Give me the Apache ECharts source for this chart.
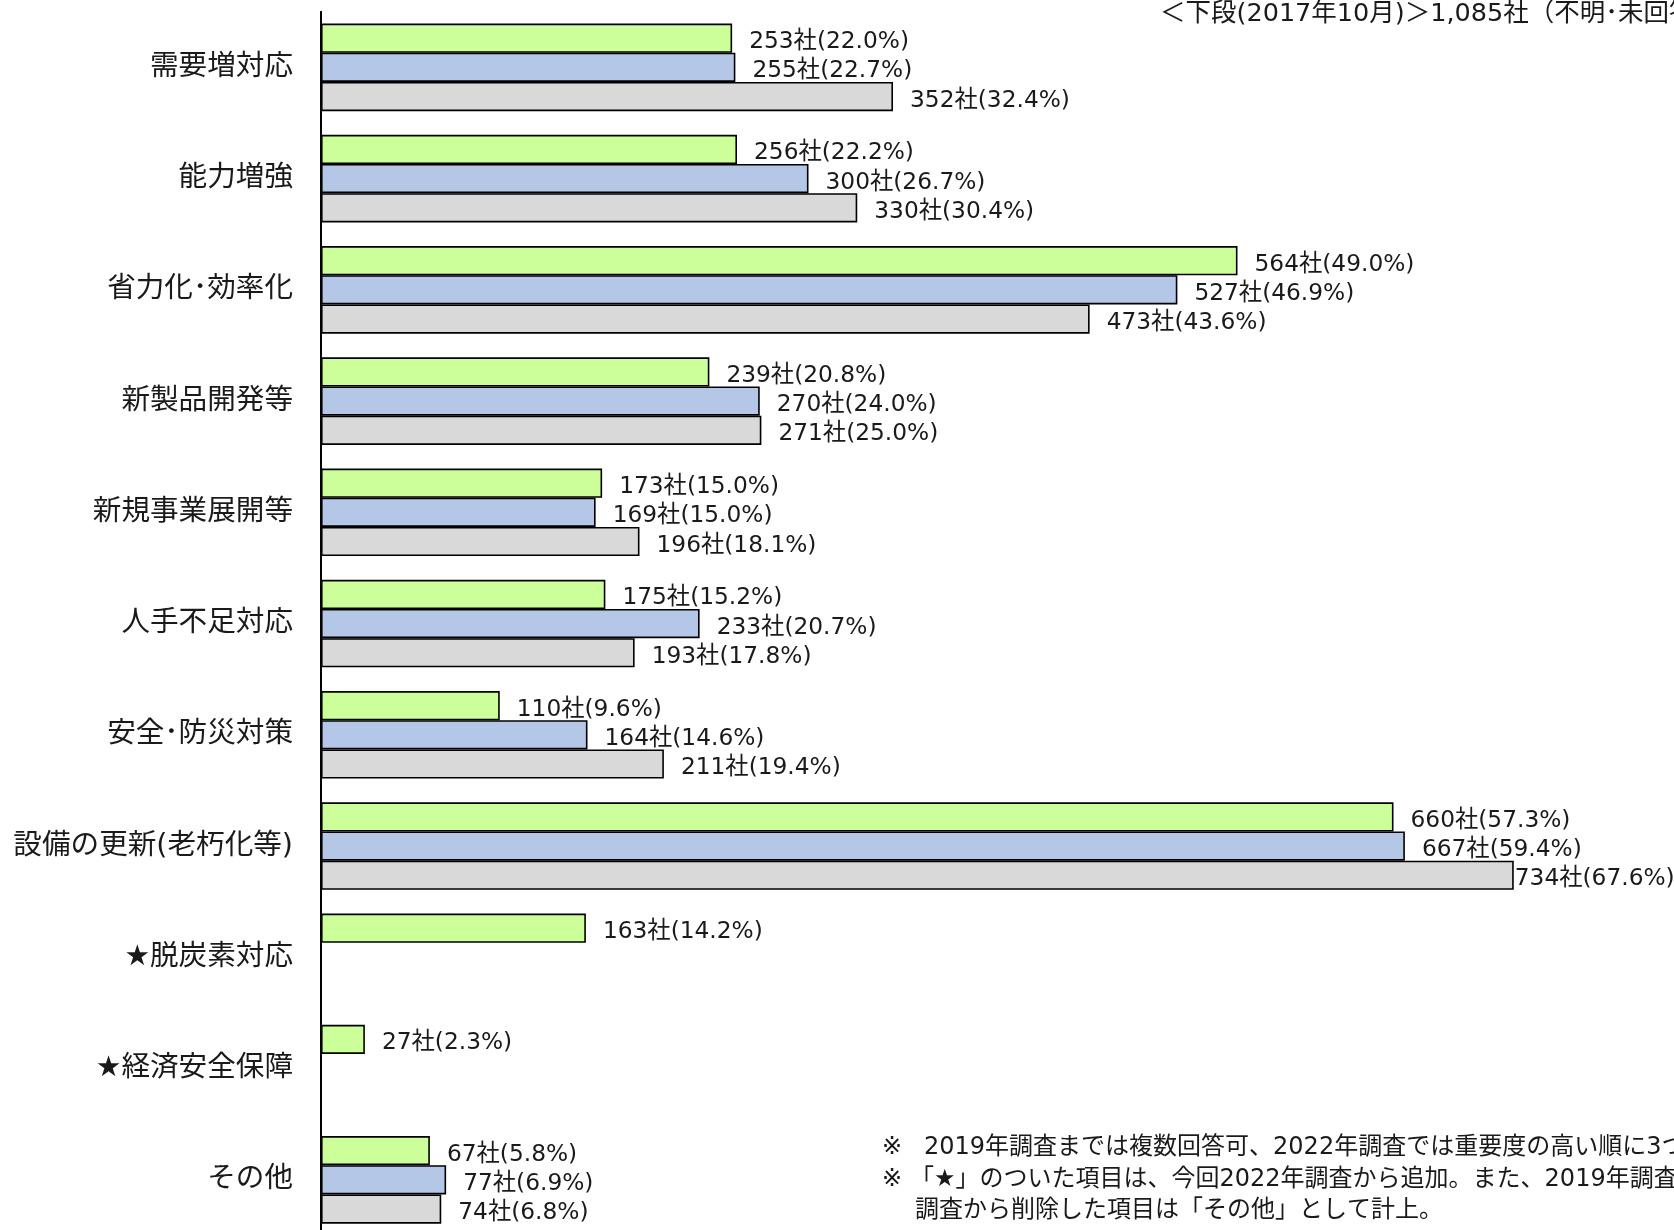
<!DOCTYPE html>
<html>
<head>
<meta charset="utf-8">
<title>設備投資の目的</title>
<script src="https://cdn.jsdelivr.net/npm/echarts@6/dist/echarts.min.js"></script>
<style>
  html, body { margin: 0; padding: 0; background: #ffffff; overflow: hidden; }
  /* the plot runs slightly past the bottom edge of the page */
  #chart { width: 1674px; height: 1250px; }
</style>
</head>
<body>
<div id="chart"></div>
<script>
// 投資目的の項目（上から順に）
const categories = [
  '需要増対応', '能力増強', '省力化･効率化', '新製品開発等', '新規事業展開等',
  '人手不足対応', '安全･防災対策', '設備の更新(老朽化等)', '★脱炭素対応',
  '★経済安全保障', 'その他'
];

// 上段：2022年調査（社数・割合）
const counts2022 = [253, 256, 564, 239, 173, 175, 110, 660, 163, 27, 67];
const shares2022 = [22.0, 22.2, 49.0, 20.8, 15.0, 15.2, 9.6, 57.3, 14.2, 2.3, 5.8];

// 中段：2019年調査
const counts2019 = [255, 300, 527, 270, 169, 233, 164, 667, null, null, 77];
const shares2019 = [22.7, 26.7, 46.9, 24.0, 15.0, 20.7, 14.6, 59.4, null, null, 6.9];

// 下段：2017年調査
const counts2017 = [352, 330, 473, 271, 196, 193, 211, 734, null, null, 74];
const shares2017 = [32.4, 30.4, 43.6, 25.0, 18.1, 17.8, 19.4, 67.6, null, null, 6.8];

const headerText = '＜下段(2017年10月)＞1,085社（不明･未回答を除く）';
const noteLines = [
  '2019年調査までは複数回答可、2022年調査では重要度の高い順に3つまで回答。',
  '「★」のついた項目は、今回2022年調査から追加。また、2019年調査まであり今回',
  '調査から削除した項目は「その他」として計上。'
];

const FONT = '"DejaVu Sans", "Noto Sans CJK JP", sans-serif';

function makeData(counts, shares) {
  return counts.map((c, i) => ({ value: c, share: shares[i] }));
}

function labelText(p) {
  if (p.value == null) return '';
  return p.value + '社(' + p.data.share.toFixed(1) + '%)';
}

function barSeries(name, counts, shares, color, tightIndex) {
  const data = makeData(counts, shares);
  if (tightIndex != null) {
    // 右端に近いラベルはバーに寄せて配置
    data[tightIndex].label = { distance: 1 };
  }
  return {
    name: name,
    type: 'bar',
    barWidth: 29.2,
    barGap: '0%',
    data: data,
    itemStyle: { color: color, borderColor: '#000000', borderWidth: 1.6 },
    label: {
      show: true,
      position: 'right',
      distance: 17,
      offset: [0, 4],
      formatter: labelText,
      color: '#1a1a1a',
      fontSize: 23.3,
      fontFamily: FONT
    },
    silent: true
  };
}

const chart = echarts.init(document.getElementById('chart'), null, { renderer: 'canvas' });

chart.setOption({
  backgroundColor: '#ffffff',
  animation: false,
  grid: { left: 321, top: 11.7, width: 1300, height: 1223.75, containLabel: false },
  xAxis: {
    type: 'value',
    min: 0,
    max: 800,
    show: false
  },
  yAxis: {
    type: 'category',
    data: categories,
    inverse: true,
    axisLine: { show: true, lineStyle: { color: '#000000', width: 2 } },
    axisTick: { show: false },
    axisLabel: {
      margin: 28,
      color: '#1a1a1a',
      fontSize: 28.6,
      fontFamily: FONT,
      padding: [4, 0, 0, 0]
    },
    splitLine: { show: false }
  },
  series: [
    barSeries('2022年', counts2022, shares2022, '#CCFF99'),
    barSeries('2019年', counts2019, shares2019, '#B4C7E7'),
    barSeries('2017年', counts2017, shares2017, '#D9D9D9', 7)
  ],
  graphic: [
    {
      type: 'text', left: 1160, top: 2,
      style: { text: headerText, fontSize: 25.5, fontFamily: FONT, fill: '#1a1a1a' }
    },
    {
      type: 'text', x: 882, y: 1148,
      style: { text: '※', fontSize: 24, fontFamily: FONT, fill: '#1a1a1a', verticalAlign: 'middle' }
    },
    {
      type: 'text', x: 924, y: 1148,
      style: { text: noteLines[0], fontSize: 24, fontFamily: FONT, fill: '#1a1a1a', verticalAlign: 'middle' }
    },
    {
      type: 'text', x: 882, y: 1180,
      style: { text: '※', fontSize: 24, fontFamily: FONT, fill: '#1a1a1a', verticalAlign: 'middle' }
    },
    {
      type: 'text', x: 910, y: 1180,
      style: { text: noteLines[1], fontSize: 24, fontFamily: FONT, fill: '#1a1a1a', verticalAlign: 'middle' }
    },
    {
      type: 'text', x: 915, y: 1210.5,
      style: { text: noteLines[2], fontSize: 24, fontFamily: FONT, fill: '#1a1a1a', verticalAlign: 'middle' }
    }
  ]
});
</script>
</body>
</html>
